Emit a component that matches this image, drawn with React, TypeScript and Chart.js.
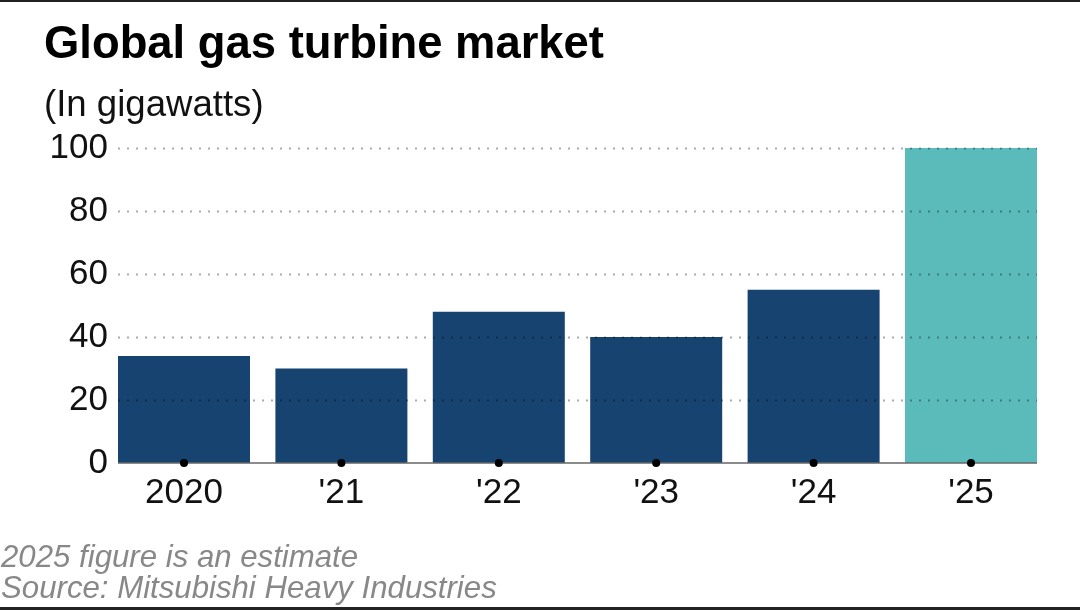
import React, { useEffect, useRef } from "react";
import { Chart, registerables } from "chart.js";

Chart.register(...registerables);

const categories = ["2020", "'21", "'22", "'23", "'24", "'25"];
const values = [34, 30, 48, 40, 55, 100];
const isEstimate = [false, false, false, false, false, true];
const yTicks = [0, 20, 40, 60, 80, 100];

const ACTUAL_COLOR = "#16436f";
const ESTIMATE_COLOR = "#5bbbba";
const FONT = "'Liberation Sans', Arial, Helvetica, sans-serif";

const overlayPlugin = {
  id: "overlay",
  afterDatasetsDraw(chart: any) {
    const { ctx, chartArea, scales } = chart;
    const x = scales.x;
    const y = scales.y;
    const meta = chart.getDatasetMeta(0);
    const half = meta.data.length ? meta.data[0].width / 2 : 0;
    const left = chartArea.left - half;
    const right = chartArea.right + half;
    ctx.save();
    // dotted gridlines drawn over the bars
    ctx.strokeStyle = "rgba(0,0,0,0.33)";
    ctx.lineWidth = 2;
    ctx.setLineDash([2, 7]);
    y.ticks.forEach((t: any) => {
      if (t.value === 0) return;
      const py = Math.round(y.getPixelForValue(t.value)) + 0.5;
      ctx.beginPath();
      ctx.moveTo(left, py);
      ctx.lineTo(right, py);
      ctx.stroke();
    });
    ctx.setLineDash([]);
    // baseline
    const y0 = y.getPixelForValue(0);
    ctx.strokeStyle = "#666";
    ctx.lineWidth = 1.5;
    ctx.beginPath();
    ctx.moveTo(left, y0);
    ctx.lineTo(right, y0);
    ctx.stroke();
    // category dots
    ctx.fillStyle = "#000";
    categories.forEach((_, i) => {
      const px = x.getPixelForValue(i);
      ctx.beginPath();
      ctx.arc(px, y0, 4, 0, Math.PI * 2);
      ctx.fill();
    });
    ctx.restore();
  },
};

function GasTurbineChart() {
  const ref = useRef<HTMLCanvasElement>(null);
  useEffect(() => {
    if (!ref.current) return;
    const chart = new Chart(ref.current, {
      type: "bar",
      data: {
        labels: categories,
        datasets: [
          {
            data: values,
            backgroundColor: isEstimate.map((e) => (e ? ESTIMATE_COLOR : ACTUAL_COLOR)),
            borderWidth: 0,
            barPercentage: 0.8386,
            categoryPercentage: 1,
            clip: false as any,
          },
        ],
      },
      options: {
        responsive: false,
        animation: false,
        devicePixelRatio: 1,
        layout: { padding: { top: 148, right: 109, bottom: 97, left: 0 } },
        plugins: {
          legend: { display: false },
          tooltip: { enabled: false },
          title: { display: false },
        },
        scales: {
          x: {
            type: "category",
            offset: false,
            grid: { display: false, drawTicks: false },
            border: { display: false },
            ticks: {
              color: "#111",
              font: { family: FONT, size: 35, lineHeight: 1.2 },
              padding: 9,
              maxRotation: 0,
              autoSkip: false,
            },
            afterFit: (s: any) => {
              s.height = 50;
            },
          },
          y: {
            min: yTicks[0],
            max: yTicks[yTicks.length - 1],
            grid: { display: false, drawTicks: false },
            border: { display: false },
            ticks: {
              stepSize: yTicks[1] - yTicks[0],
              color: "#111",
              font: { family: FONT, size: 35 },
              padding: 76,
            },
            afterFit: (s: any) => {
              s.width = 184;
            },
          },
        },
      },
      plugins: [overlayPlugin],
    });
    return () => chart.destroy();
  }, []);

  return (
    <div
      style={{
        position: "fixed",
        left: 0,
        top: 0,
        width: 1080,
        height: 610,
        background: "#fff",
        overflow: "hidden",
        fontFamily: FONT,
      }}
    >
      <div style={{ position: "absolute", left: 0, top: 0, width: 1080, height: 2, background: "#222" }} />
      <div style={{ position: "absolute", left: 0, top: 607, width: 1080, height: 3, background: "#222" }} />
      <canvas
        ref={ref}
        width={1080}
        height={610}
        style={{ position: "absolute", left: 0, top: 0, width: 1080, height: 610 }}
      />
      <div
        style={{
          position: "absolute",
          left: 44,
          top: 20,
          fontSize: 45.4,
          lineHeight: "45px",
          fontWeight: "bold",
          color: "#000",
          whiteSpace: "nowrap",
        }}
      >
        Global gas turbine market
      </div>
      <div
        style={{
          position: "absolute",
          left: 44,
          top: 86,
          fontSize: 36.6,
          lineHeight: "36px",
          color: "#111",
          whiteSpace: "nowrap",
        }}
      >
        (In gigawatts)
      </div>
      <div
        style={{
          position: "absolute",
          left: 1,
          top: 541,
          fontSize: 31.2,
          lineHeight: "31px",
          fontStyle: "italic",
          color: "#888",
          whiteSpace: "nowrap",
        }}
      >
        2025 figure is an estimate
      </div>
      <div
        style={{
          position: "absolute",
          left: 1,
          top: 572,
          fontSize: 31.2,
          lineHeight: "31px",
          fontStyle: "italic",
          color: "#888",
          whiteSpace: "nowrap",
        }}
      >
        Source: Mitsubishi Heavy Industries
      </div>
    </div>
  );
}

export default function App() {
  return <GasTurbineChart />;
}
